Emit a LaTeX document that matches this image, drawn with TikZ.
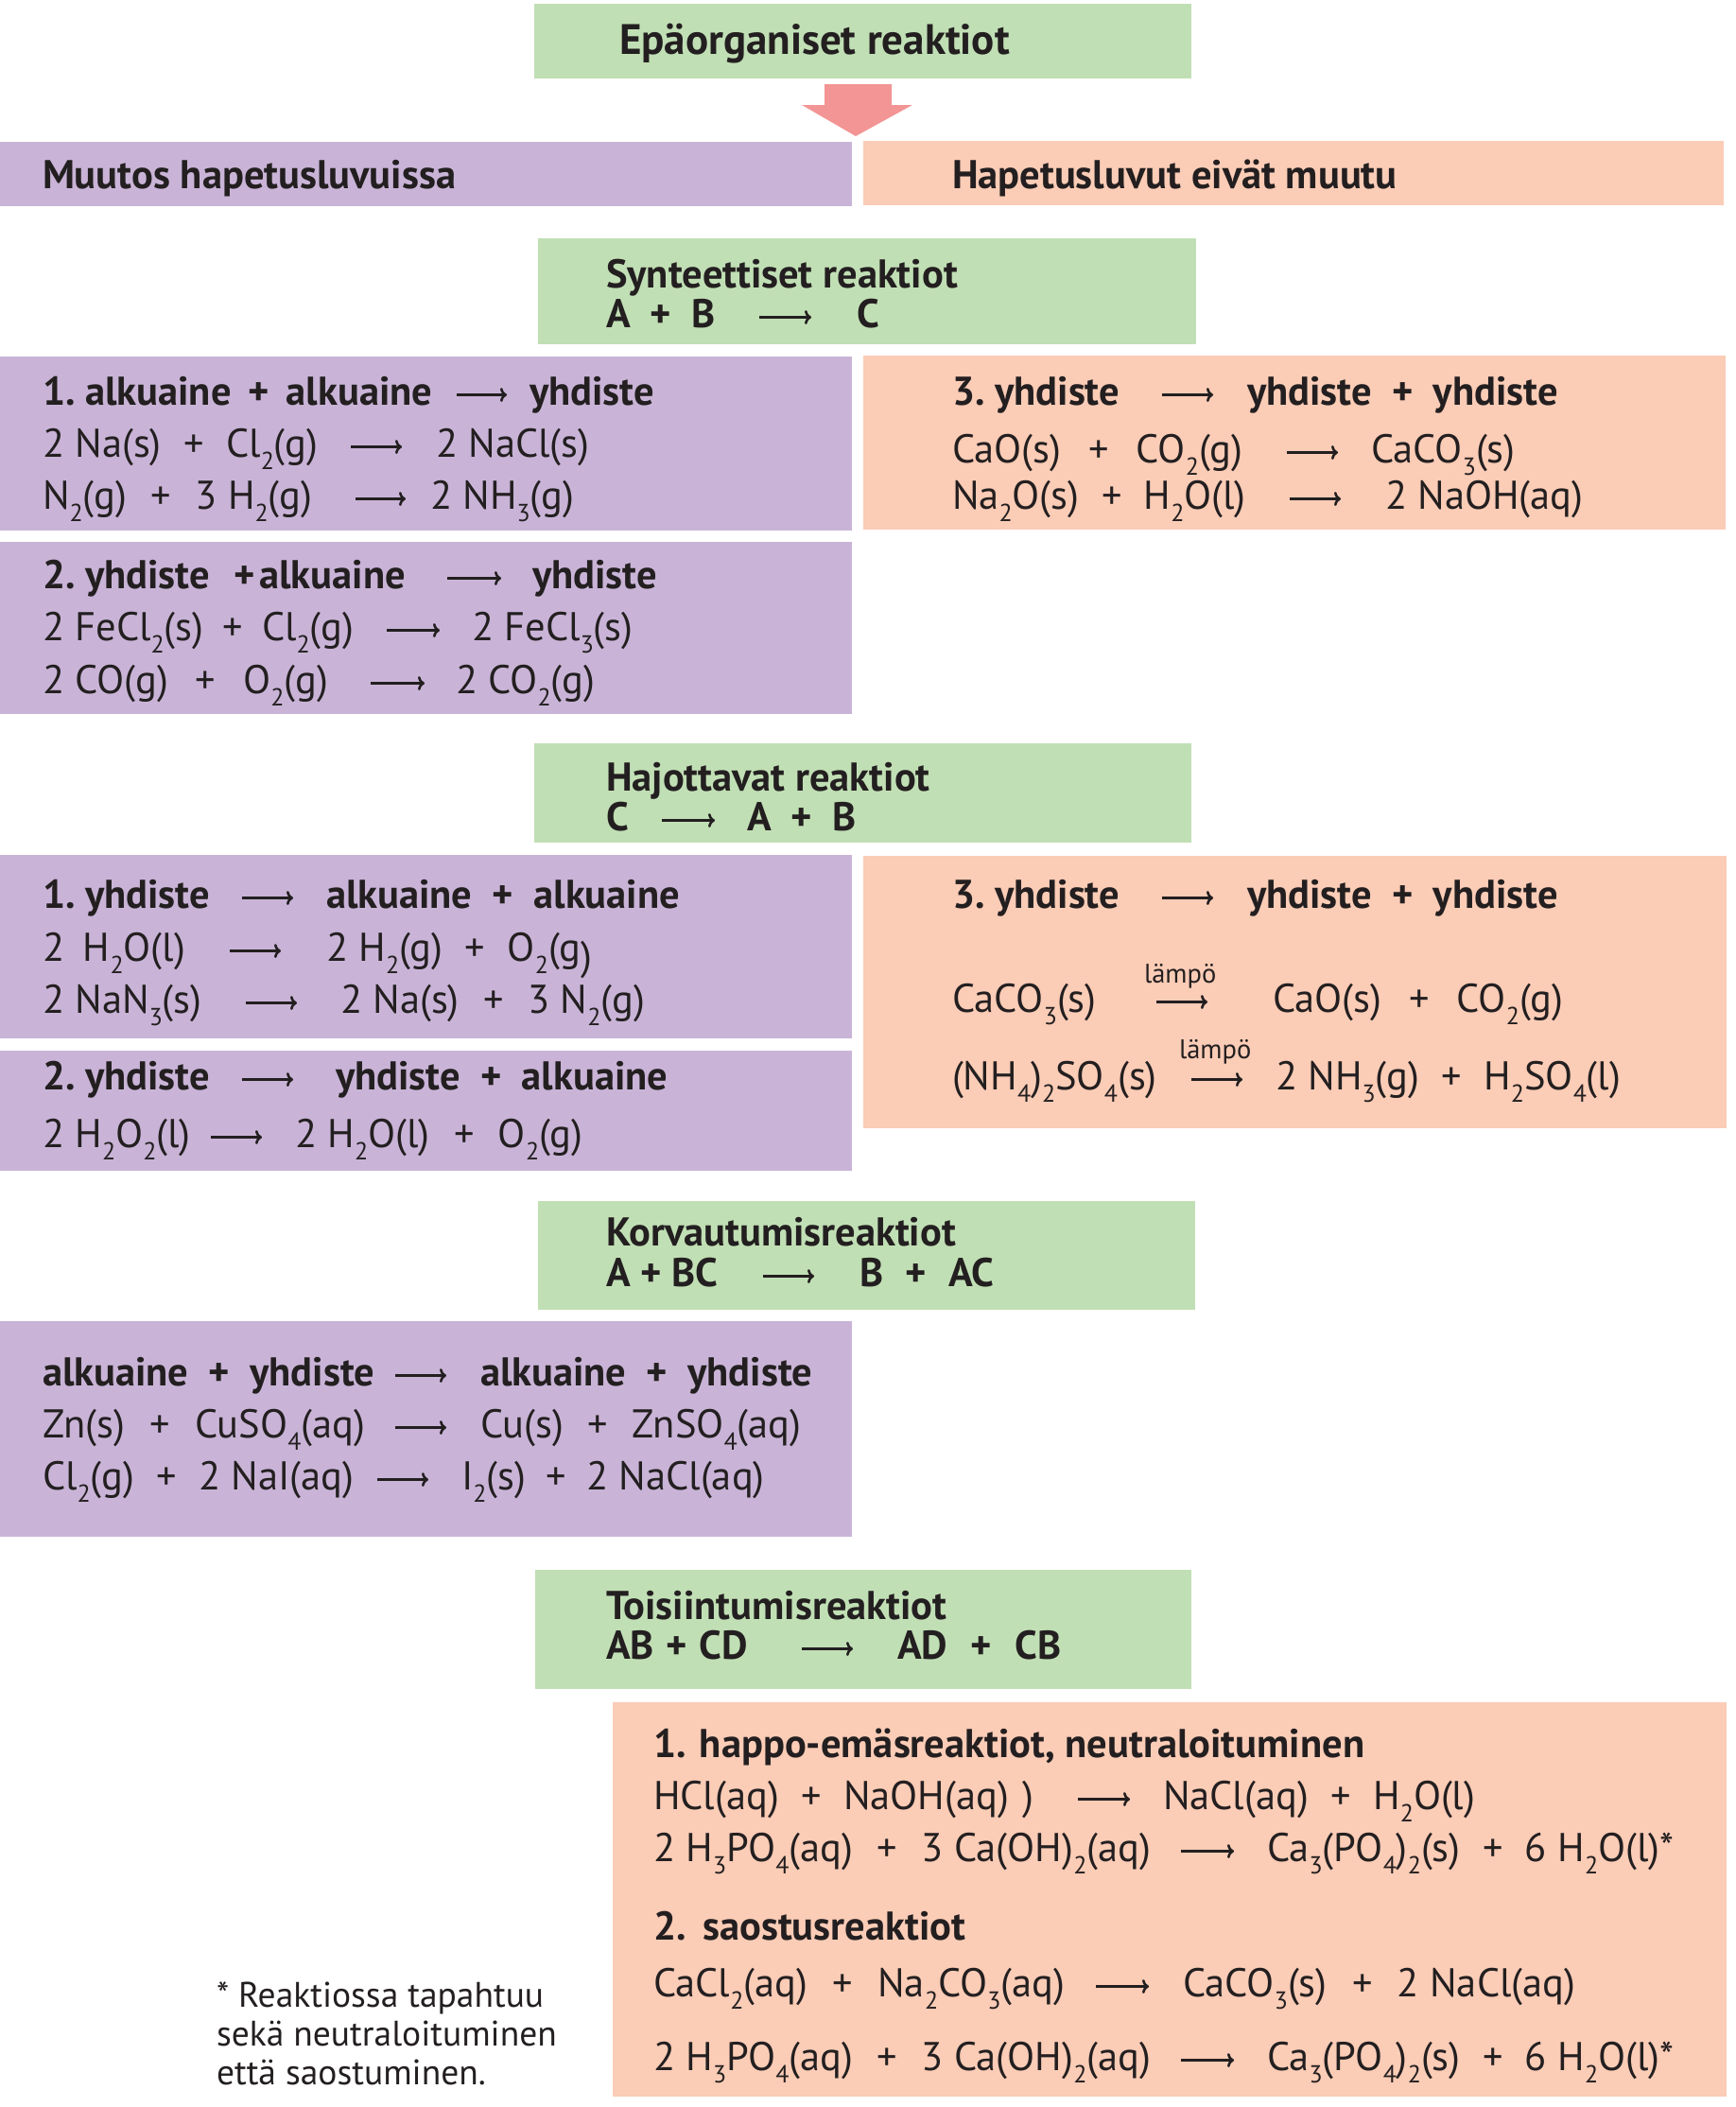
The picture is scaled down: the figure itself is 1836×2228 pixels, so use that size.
\documentclass[tikz,border=0pt]{standalone}
\usepackage{fontspec}
\usetikzlibrary{arrows.meta}
\setmainfont{PT Sans}
\definecolor{ink}{HTML}{231F20}
\definecolor{greenfill}{HTML}{C1DFB5}
\definecolor{purplefill}{HTML}{C9B4D7}
\definecolor{peachfill}{HTML}{FBCCB6}
\definecolor{pinkfill}{HTML}{F29594}
\newcommand{\ix}[1]{\raisebox{-0.3em}{\fontsize{26}{26}\selectfont #1}}
\newcommand{\pl}[1][0.55em]{\hspace{#1}+\hspace{#1}}
\newcommand{\plb}{\hspace{0.5em}+\hspace{0.5em}}
\newcommand{\nr}[1]{#1.\hspace{0.25em}}
\tikzset{
    eqn/.style={anchor=base west, inner sep=0, outer sep=0, yshift=-1.5pt, text=ink, font=\fontsize{42.5}{44}\selectfont},
    headtxt/.style={eqn, font=\fontsize{42.5}{44}\selectfont\bfseries},
    titletxt/.style={eqn, font=\fontsize{45}{47}\selectfont\bfseries},
    notetxt/.style={eqn, font=\fontsize{37.5}{40}\selectfont},
    heatlabel/.style={eqn, font=\fontsize{28.5}{30}\selectfont},
    rxarrow/.style={-{To[length=7pt,width=15pt]}, line width=2.6pt, draw=ink}
}
\begin{document}
\begin{tikzpicture}[x=1pt, y=-1pt]
    \useasboundingbox (0,0) rectangle (1836,2228);
    % boxes
    \fill[greenfill] (565,4) rectangle (1260,83);
    \fill[pinkfill] (872,89) -- (943,89) -- (943,111) -- (965,111) -- (905,144) -- (848,111) -- (872,111) -- cycle;
    \fill[purplefill] (0,150) rectangle (901,218);
    \fill[peachfill] (913,149) rectangle (1823,217);
    \fill[greenfill] (569,252) rectangle (1265,364);
    \fill[purplefill] (0,377) rectangle (901,561);
    \fill[peachfill] (913,376) rectangle (1825,560);
    \fill[purplefill] (0,573) rectangle (901,755);
    \fill[greenfill] (565,786) rectangle (1260,891);
    \fill[purplefill] (0,904) rectangle (901,1098);
    \fill[purplefill] (0,1111) rectangle (901,1238);
    \fill[peachfill] (913,905) rectangle (1826,1193);
    \fill[greenfill] (569,1270) rectangle (1264,1385);
    \fill[purplefill] (0,1397) rectangle (901,1625);
    \fill[greenfill] (566,1660) rectangle (1260,1786);
    \fill[peachfill] (648,1800) rectangle (1826,2217);
    % headers
    \node[titletxt] (epa) at (655,56) {Epäorganiset reaktiot};
    \node[headtxt] (muutos) at (45,198) {Muutos hapetusluvuissa};
    \node[headtxt] (eivat) at (1007,198) {Hapetusluvut eivät muutu};
    % synteettiset
    \node[headtxt] (syn) at (641,303) {Synteettiset reaktiot};
    \node[headtxt] (synL) at (641,345) {A\plb B};
    \node[headtxt] (synR) at (906,345) {C};
    \draw[rxarrow] ([yshift=11pt]synL.base -| 803,0) -- ([yshift=11pt]synR.base -| 858,0);
    \node[headtxt] (s1L) at (45,427) {\nr{1}alkuaine\hspace{0.42em}+\hspace{0.42em}alkuaine};
    \node[headtxt] (s1R) at (560,427) {yhdiste};
    \draw[rxarrow] ([yshift=11pt]s1L.base -| 483,0) -- ([yshift=11pt]s1R.base -| 536,0);
    \node[eqn] (s1aL) at (45,482) {2 Na(s)\pl Cl\ix{2}(g)};
    \node[eqn] (s1aR) at (461,482) {2 NaCl(s)};
    \draw[rxarrow] ([yshift=11pt]s1aL.base -| 371,0) -- ([yshift=11pt]s1aR.base -| 425,0);
    \node[eqn] (s1bL) at (45,537) {N\ix{2}(g)\pl[0.6em]3 H\ix{2}(g)};
    \node[eqn] (s1bR) at (455,537) {2 NH\ix{3}(g)};
    \draw[rxarrow] ([yshift=11pt]s1bL.base -| 376,0) -- ([yshift=11pt]s1bR.base -| 429,0);
    \node[headtxt] (s2L) at (45,621) {\nr{2}yhdiste\hspace{0.6em}+\hspace{0.1em}alkuaine};
    \node[headtxt] (s2R) at (563,621) {yhdiste};
    \draw[rxarrow] ([yshift=11pt]s2L.base -| 473,0) -- ([yshift=11pt]s2R.base -| 530,0);
    \node[eqn] (s2aL) at (45,676) {2 FeCl\ix{2}(s)\pl[0.47em]Cl\ix{2}(g)};
    \node[eqn] (s2aR) at (499,676) {2 FeCl\ix{3}(s)};
    \draw[rxarrow] ([yshift=11pt]s2aL.base -| 409,0) -- ([yshift=11pt]s2aR.base -| 465,0);
    \node[eqn] (s2bL) at (45,732) {2 CO(g)\pl[0.68em]O\ix{2}(g)};
    \node[eqn] (s2bR) at (482,732) {2 CO\ix{2}(g)};
    \draw[rxarrow] ([yshift=11pt]s2bL.base -| 392,0) -- ([yshift=11pt]s2bR.base -| 449,0);
    \node[headtxt] (s3L) at (1007,427) {\nr{3}yhdiste};
    \node[headtxt] (s3R) at (1319,427) {yhdiste\plb yhdiste};
    \draw[rxarrow] ([yshift=11pt]s3L.base -| 1229,0) -- ([yshift=11pt]s3R.base -| 1283,0);
    \node[eqn] (s3aL) at (1007,488) {CaO(s)\pl[0.68em]CO\ix{2}(g)};
    \node[eqn] (s3aR) at (1450,488) {CaCO\ix{3}(s)};
    \draw[rxarrow] ([yshift=11pt]s3aL.base -| 1361,0) -- ([yshift=11pt]s3aR.base -| 1415,0);
    \node[eqn] (s3bL) at (1007,537) {Na\ix{2}O(s)\pl H\ix{2}O(l)};
    \node[eqn] (s3bR) at (1465,537) {2 NaOH(aq)};
    \draw[rxarrow] ([yshift=11pt]s3bL.base -| 1364,0) -- ([yshift=11pt]s3bR.base -| 1418,0);
    % hajottavat
    \node[headtxt] (haj) at (641,835) {Hajottavat reaktiot};
    \node[headtxt] (hajL) at (641,877) {C};
    \node[headtxt] (hajR) at (790,877) {A\plb B};
    \draw[rxarrow] ([yshift=11pt]hajL.base -| 700,0) -- ([yshift=11pt]hajR.base -| 756,0);
    \node[headtxt] (h1L) at (45,959) {\nr{1}yhdiste};
    \node[headtxt] (h1R) at (345,959) {alkuaine\plb alkuaine};
    \draw[rxarrow] ([yshift=11pt]h1L.base -| 256,0) -- ([yshift=11pt]h1R.base -| 310,0);
    \node[eqn] (h1aL) at (45,1015) {2 \hspace{0.2em}H\ix{2}O(l)};
    \node[eqn] (h1aR) at (345,1015) {2 H\ix{2}(g)\pl O\ix{2}(g\raisebox{-0.2em}{)}};
    \draw[rxarrow] ([yshift=11pt]h1aL.base -| 243,0) -- ([yshift=11pt]h1aR.base -| 297,0);
    \node[eqn] (h1bL) at (45,1070) {2 NaN\ix{3}(s)};
    \node[eqn] (h1bR) at (360,1070) {2 Na(s)\pl[0.6em]3 N\ix{2}(g)};
    \draw[rxarrow] ([yshift=11pt]h1bL.base -| 260,0) -- ([yshift=11pt]h1bR.base -| 314,0);
    \node[headtxt] (h2L) at (45,1151) {\nr{2}yhdiste};
    \node[headtxt] (h2R) at (355,1151) {yhdiste\plb alkuaine};
    \draw[rxarrow] ([yshift=11pt]h2L.base -| 256,0) -- ([yshift=11pt]h2R.base -| 310,0);
    \node[eqn] (h2aL) at (45,1212) {2 H\ix{2}O\ix{2}(l)};
    \node[eqn] (h2aR) at (312,1212) {2 H\ix{2}O(l)\pl[0.6em]O\ix{2}(g)};
    \draw[rxarrow] ([yshift=11pt]h2aL.base -| 223,0) -- ([yshift=11pt]h2aR.base -| 277,0);
    \node[headtxt] (h3L) at (1007,959) {\nr{3}yhdiste};
    \node[headtxt] (h3R) at (1319,959) {yhdiste\plb yhdiste};
    \draw[rxarrow] ([yshift=11pt]h3L.base -| 1229,0) -- ([yshift=11pt]h3R.base -| 1283,0);
    \node[eqn] (h3aL) at (1007,1069) {CaCO\ix{3}(s)};
    \node[eqn] (h3aR) at (1346,1069) {CaO(s)\pl[0.68em]CO\ix{2}(g)};
    \draw[rxarrow] ([yshift=11pt]h3aL.base -| 1223,0) -- ([yshift=11pt]h3aR.base -| 1277,0);
    \node[heatlabel] (heatA) at (1210,1038) {lämpö};
    \node[eqn] (h3bL) at (1007,1151) {(NH\ix{4})\ix{2}SO\ix{4}(s)};
    \node[eqn] (h3bR) at (1349,1151) {2 NH\ix{3}(g)\pl H\ix{2}SO\ix{4}(l)};
    \draw[rxarrow] ([yshift=11pt]h3bL.base -| 1260,0) -- ([yshift=11pt]h3bR.base -| 1314,0);
    \node[heatlabel] (heatB) at (1247,1118) {lämpö};
    % korvautumis
    \node[headtxt] (kor) at (641,1316) {Korvautumisreaktiot};
    \node[headtxt] (korL) at (641,1359) {A + BC};
    \node[headtxt] (korR) at (909,1359) {B\hspace{0.55em}+\hspace{0.55em}AC};
    \draw[rxarrow] ([yshift=11pt]korL.base -| 807,0) -- ([yshift=11pt]korR.base -| 861,0);
    \node[headtxt] (k1L) at (45,1464) {alkuaine\plb yhdiste};
    \node[headtxt] (k1R) at (508,1464) {alkuaine\plb yhdiste};
    \draw[rxarrow] ([yshift=11pt]k1L.base -| 418,0) -- ([yshift=11pt]k1R.base -| 472,0);
    \node[eqn] (k1aL) at (45,1519) {Zn(s)\pl[0.62em]CuSO\ix{4}(aq)};
    \node[eqn] (k1aR) at (508,1519) {Cu(s)\pl[0.6em]ZnSO\ix{4}(aq)};
    \draw[rxarrow] ([yshift=11pt]k1aL.base -| 418,0) -- ([yshift=11pt]k1aR.base -| 472,0);
    \node[eqn] (k1bL) at (45,1574) {Cl\ix{2}(g)\pl 2 NaI(aq)};
    \node[eqn] (k1bR) at (488,1574) {I\ix{2}(s)\pl[0.5em]2 NaCl(aq)};
    \draw[rxarrow] ([yshift=11pt]k1bL.base -| 399,0) -- ([yshift=11pt]k1bR.base -| 453,0);
    % toisiintumis
    \node[headtxt] (toi) at (641,1711) {Toisiintumisreaktiot};
    \node[headtxt] (toiL) at (641,1753) {AB\hspace{0.3em}+\hspace{0.3em}CD};
    \node[headtxt] (toiR) at (949,1753) {AD\hspace{0.58em}+\hspace{0.58em}CB};
    \draw[rxarrow] ([yshift=11pt]toiL.base -| 848,0) -- ([yshift=11pt]toiR.base -| 902,0);
    \node[headtxt] (t1) at (691,1857) {1. happo-emäsreaktiot, neutraloituminen};
    \node[eqn] (t1aL) at (691,1912) {HCl(aq)\pl NaOH(aq) \hspace{0.08em})};
    \node[eqn] (t1aR) at (1230,1912) {NaCl(aq)\pl H\ix{2}O(l)};
    \draw[rxarrow] ([yshift=11pt]t1aL.base -| 1140,0) -- ([yshift=11pt]t1aR.base -| 1195,0);
    \node[eqn] (t1bL) at (691,1967) {2 H\ix{3}PO\ix{4}(aq)\pl[0.6em]3 Ca(OH)\ix{2}(aq)};
    \node[eqn] (t1bR) at (1340,1967) {Ca\ix{3}(PO\ix{4})\ix{2}(s)\pl 6 H\ix{2}O(l)*};
    \draw[rxarrow] ([yshift=11pt]t1bL.base -| 1249,0) -- ([yshift=11pt]t1bR.base -| 1305,0);
    \node[headtxt] (t2) at (691,2050) {2.\hspace{0.42em}saostusreaktiot};
    \node[eqn] (t2aL) at (691,2110) {CaCl\ix{2}(aq)\pl[0.62em]Na\ix{2}CO\ix{3}(aq)};
    \node[eqn] (t2aR) at (1251,2110) {CaCO\ix{3}(s)\pl[0.62em]2 NaCl(aq)};
    \draw[rxarrow] ([yshift=11pt]t2aL.base -| 1159,0) -- ([yshift=11pt]t2aR.base -| 1215,0);
    \node[eqn] (t2bL) at (691,2188) {2 H\ix{3}PO\ix{4}(aq)\pl[0.6em]3 Ca(OH)\ix{2}(aq)};
    \node[eqn] (t2bR) at (1340,2188) {Ca\ix{3}(PO\ix{4})\ix{2}(s)\pl 6 H\ix{2}O(l)*};
    \draw[rxarrow] ([yshift=11pt]t2bL.base -| 1249,0) -- ([yshift=11pt]t2bR.base -| 1305,0);
    % footnote
    \node[notetxt] (noteA) at (229,2121) {* Reaktiossa tapahtuu};
    \node[notetxt] (noteB) at (229,2162) {sekä neutraloituminen};
    \node[notetxt] (noteC) at (229,2203) {että saostuminen.};
\end{tikzpicture}
\end{document}
